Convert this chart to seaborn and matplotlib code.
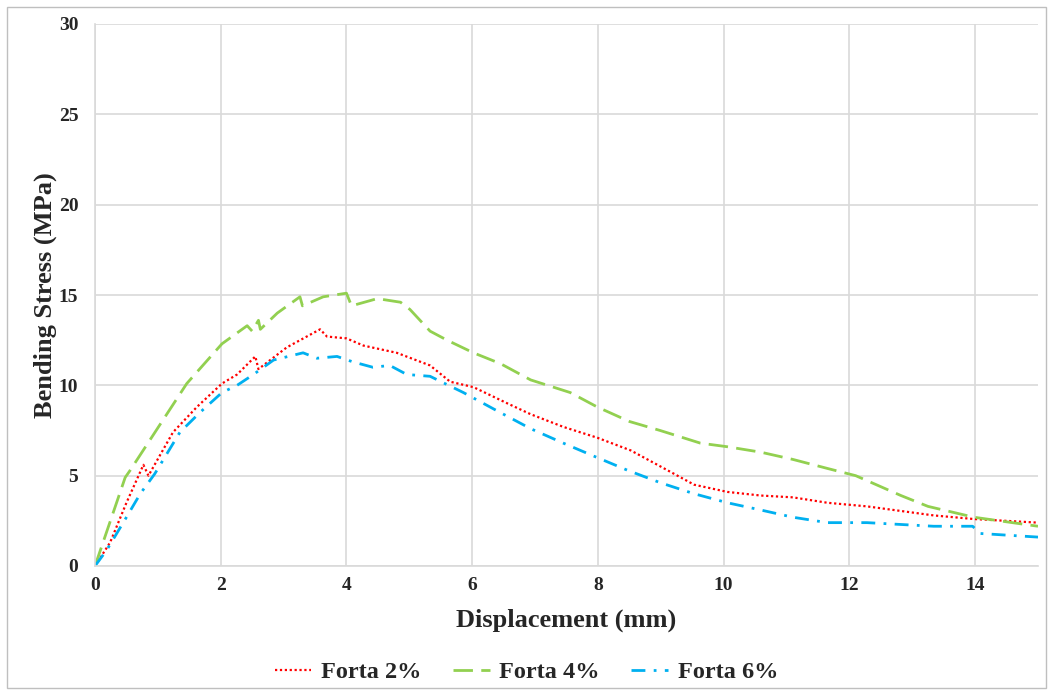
import pandas as pd
import matplotlib.pyplot as plt
import seaborn as sns
from matplotlib.patches import Rectangle

# Forta 2%
x_f2 = [0, 0.24, 0.5, 0.77, 0.85, 1.24, 1.62, 2.02, 2.26, 2.55, 2.6, 3.05, 3.58, 3.69,
        4.0, 4.27, 4.8, 5.33, 5.65, 6.02, 6.56, 6.93, 7.45, 7.99, 8.52, 9.0, 9.53,
        10.06, 10.59, 11.1, 11.65, 12.28, 13.34, 13.98, 15.0]
y_f2 = [0, 1.3, 3.5, 5.6, 5.0, 7.4, 8.8, 10.1, 10.6, 11.6, 10.9, 12.1, 13.1, 12.7,
        12.6, 12.2, 11.8, 11.1, 10.2, 9.9, 9.0, 8.4, 7.7, 7.1, 6.4, 5.5, 4.5,
        4.1, 3.9, 3.8, 3.5, 3.3, 2.8, 2.6, 2.4]

# Forta 4%
x_f4 = [0, 0.48, 0.56, 1.46, 2.02, 2.42, 2.5, 2.6, 2.63, 2.9, 3.26, 3.3, 3.63, 4.0,
        4.08, 4.49, 4.86, 5.01, 5.33, 5.6, 6.02, 6.45, 6.93, 7.56, 7.99, 8.5, 8.99,
        9.63, 10.06, 10.59, 11.1, 11.65, 12.1, 12.82, 13.25, 13.98, 15.0]
y_f4 = [0, 4.9, 5.3, 10.1, 12.3, 13.3, 13.0, 13.6, 13.1, 14.0, 14.9, 14.4, 14.9, 15.1,
        14.4, 14.8, 14.6, 14.2, 13.0, 12.5, 11.8, 11.2, 10.3, 9.6, 8.8, 8.0, 7.5,
        6.8, 6.6, 6.3, 5.9, 5.4, 5.0, 3.9, 3.3, 2.7, 2.2]

# Forta 6%
x_f6 = [0, 0.19, 0.5, 0.72, 0.95, 1.35, 1.67, 2.02, 2.26, 2.52, 2.84, 3.31, 3.53,
        3.85, 4.1, 4.42, 4.69, 4.96, 5.33, 5.86, 6.39, 6.93, 7.45, 7.99, 8.47, 9.0,
        9.53, 10.06, 10.59, 11.1, 11.65, 12.28, 13.34, 13.96, 14.08, 15.0]
y_f6 = [0, 0.9, 2.7, 4.0, 5.1, 7.4, 8.5, 9.6, 10.0, 10.6, 11.4, 11.8, 11.5,
        11.6, 11.3, 11.0, 11.1, 10.6, 10.5, 9.6, 8.6, 7.6, 6.8, 6.0, 5.3, 4.6,
        4.0, 3.5, 3.1, 2.7, 2.4, 2.4, 2.2, 2.2, 1.8, 1.6]

sns.set_style('white')
plt.rcParams['font.family'] = ['Liberation Serif', 'DejaVu Serif']
plt.rcParams['font.weight'] = 'bold'

W, H = 1053, 695
fig = plt.figure(figsize=(W / 100, H / 100), dpi=100)
ax = fig.add_axes([95 / W, 1 - 566 / H, (1038 - 95) / W, (566 - 24) / H])

sns.lineplot(x=x_f2, y=y_f2, ax=ax, color='#FF0000', linestyle=(0, (1, 1.2)),
             linewidth=1.6, sort=False, label='Forta 2%')
sns.lineplot(x=x_f4, y=y_f4, ax=ax, color='#92D050', linestyle=(0, (7, 3)),
             linewidth=2.0, sort=False, label='Forta 4%')
sns.lineplot(x=x_f6, y=y_f6, ax=ax, color='#00B0F0', linestyle=(0, (5, 3, 1, 3)),
             linewidth=2.0, sort=False, label='Forta 6%')

ax.set_xlim(0, 15)
ax.set_ylim(0, 30)
ax.set_xticks(range(0, 15, 2))
ax.set_yticks(range(0, 31, 5))
ax.grid(True, color='#D9D9D9', linewidth=1.2)
for s in ['top', 'right']:
    ax.spines[s].set_visible(False)
for s in ['left', 'bottom']:
    ax.spines[s].set_color('#D9D9D9')
    ax.spines[s].set_linewidth(1.2)
ax.tick_params(axis='x', length=0, labelsize=14, pad=8)
ax.tick_params(axis='y', length=0, labelsize=14, pad=12)
for lab in ax.get_xticklabels() + ax.get_yticklabels():
    lab.set_fontweight('bold')
ax.set_xlabel('Displacement (mm)', fontsize=19, fontweight='bold')
ax.set_ylabel('Bending Stress (MPa)', fontsize=19, fontweight='bold')
ax.xaxis.set_label_coords(0.5, (566 - 609) / 542)
ax.yaxis.set_label_coords((57 - 95) / 943, 0.5)

ax.get_legend().remove()
handles, labels = ax.get_legend_handles_labels()
leg = fig.legend(handles, labels, loc='center', bbox_to_anchor=(0.5, 1 - 672 / H), ncol=3,
                 frameon=False, fontsize=17.5,
                 handlelength=1.5, columnspacing=1.3, handletextpad=0.4)
for t in leg.get_texts():
    t.set_fontfamily(['Liberation Serif', 'DejaVu Serif'])
    t.set_fontweight('bold')

fig.patches.append(Rectangle((7 / W, 7 / H), (W - 14) / W, (H - 14) / H, transform=fig.transFigure,
                             fill=False, edgecolor='#BFBFBF', linewidth=1))

fig.savefig('out.png', dpi=100)
